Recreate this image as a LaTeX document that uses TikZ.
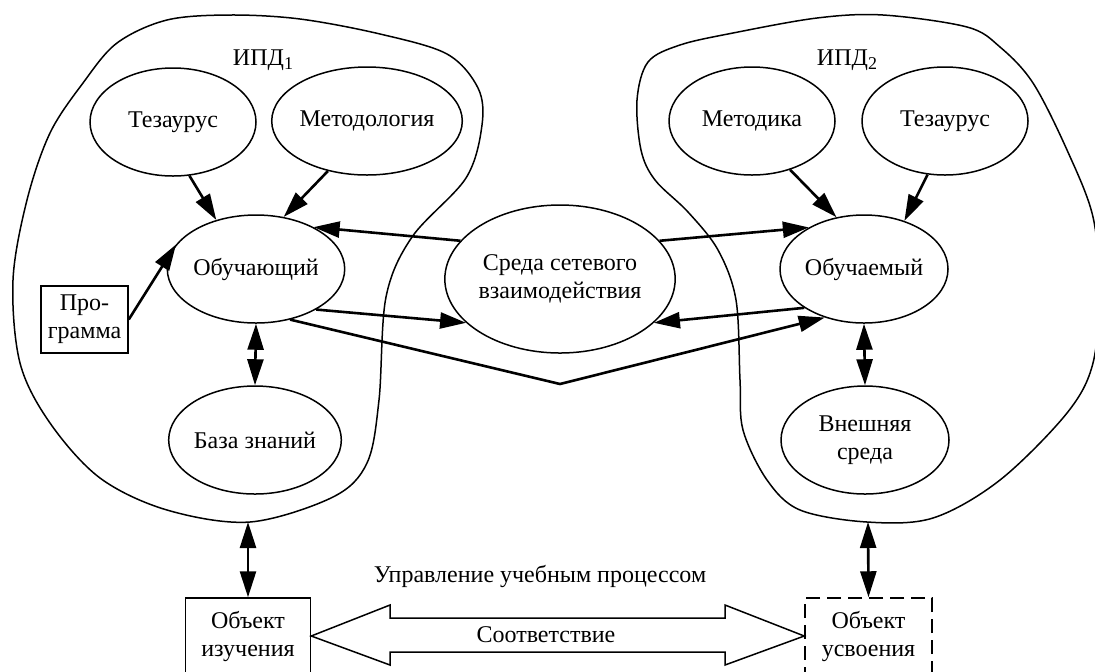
\documentclass[tikz,border=0pt]{standalone}
\usepackage{fontspec}
\setmainfont{Liberation Serif}
\usetikzlibrary{shapes.geometric,arrows.meta}
\begin{document}
\begin{tikzpicture}[x=0.5pt,y=-0.5pt,
  every node/.style={font=\fontsize{12}{14}\selectfont},
  ell/.style={draw,ellipse,line width=0.75pt,inner sep=0pt,align=center},
  box/.style={draw,rectangle,line width=0.75pt,inner sep=0pt,align=center},
  tip/.style={},
  arr/.style={line width=1.3pt,-{Triangle[length=13pt,width=8pt]}},
  darr/.style={line width=1.3pt,{Triangle[length=13pt,width=8pt]}-{Triangle[length=13pt,width=8pt]}},
  blob/.style={line width=0.75pt},
  dbox/.style={draw,rectangle,line width=0.75pt,inner sep=0pt,align=center,dash pattern=on 7pt off 3.5pt},
]
\useasboundingbox (0,0) rectangle (1095,671);

% blobs
\draw[blob] plot[smooth cycle, tension=0.55] coordinates {
 (230,15) (300,19) (380,34) (447,54) (478,88) (482,125) (466,178) (412,237)
 (386,297) (379,400) (367,463) (333,497) (250,522) (167,510) (100,478) (50,423)
 (20,363) (13,280) (27,200) (50,133) (83,83) (117,43) (167,20)};
\draw[blob] plot[smooth cycle, tension=0.55] coordinates {
 (883,15) (967,27) (1000,47) (1033,83) (1067,150) (1093,217) (1099,290) (1093,363)
 (1067,413) (1000,480) (933,518) (867,522) (800,510) (767,480) (743,430) (740,380)
 (736,300) (718,250) (688,212) (655,180) (641,150) (637,100) (648,62) (680,45) (733,33) (817,18)};

\node (ipd1) at (263,60) {ИПД\raisebox{-0.4ex}{\fontsize{9}{9}\selectfont 1}};
\node (ipd2) at (847,60) {ИПД\raisebox{-0.4ex}{\fontsize{9}{9}\selectfont 2}};

% nodes
\node[ell,minimum width=83pt,minimum height=54pt] (t1) at (173,122) {Тезаурус};
\node[ell,minimum width=83pt,minimum height=54pt] (m1) at (367,121) {Методология};
\node[ell,minimum width=84pt,minimum height=54pt] (o1) at (256,269) {Обучающий};
\node[box,minimum width=43.5pt,minimum height=33.5pt] (p1) at (84.5,319.5) {Про-\\грамма};
\node[ell,minimum width=84pt,minimum height=54pt] (b1) at (255,440) {База знаний};

\node[ell,minimum width=110pt,minimum height=74pt] (s) at (560,279) {Среда сетевого\\взаимодействия};

\node[ell,minimum width=83pt,minimum height=54pt] (m2) at (752,121) {Методика};
\node[ell,minimum width=83pt,minimum height=54pt] (t2) at (945,121) {Тезаурус};
\node[ell,minimum width=84pt,minimum height=54pt] (o2) at (864,269) {Обучаемый};
\node[ell,minimum width=84pt,minimum height=54pt] (v2) at (865,440) {Внешняя\\среда};

\node[box,minimum width=62.5pt,minimum height=38pt] (ob1) at (248,636) {Объект\\изучения};
\node[dbox,minimum width=63.5pt,minimum height=38pt] (ob2) at (868.5,636) {Объект\\усвоения};

\coordinate (lb1) at (248,522);
\coordinate (lb2) at (868,522);
\coordinate (vx) at (560,384);

% arrows
\draw[arr] (t1.-73) -- (o1.129);
\draw[arr] (m1.-128) -- (o1.62);
\draw[arr] (p1.east) -- (o1.163);
\draw[darr] (o1.south) -- (b1.north);
\draw[arr] (s.159) -- (o1.36);
\draw[arr] (o1.-34) -- (s.-155);
\draw[arr] (o1.-56) -- (vx) -- (o2.-129);
\draw[arr] (s.21) -- (o2.143);
\draw[arr] (o2.-147) -- (s.-25);
\draw[arr] (m2.-52) -- (o2.118);
\draw[arr] (t2.-108) -- (o2.50);
\draw[darr] (o2.south) -- (v2.north);
\draw[darr] (lb1) -- (ob1.north);
\draw[darr] (lb2) -- (ob2.north);

% big double arrow
\draw[line width=0.75pt] (ob1.east) -- (390,605) -- (390,618) -- (725,618) -- (725,605)
  -- (ob2.west) -- (725,665) -- (725,652) -- (390,652) -- (390,665) -- cycle;
\node (corr) at (546,635) {Соответствие};
\node (upr) at (540,576) {Управление учебным процессом};
\end{tikzpicture}
\end{document}
